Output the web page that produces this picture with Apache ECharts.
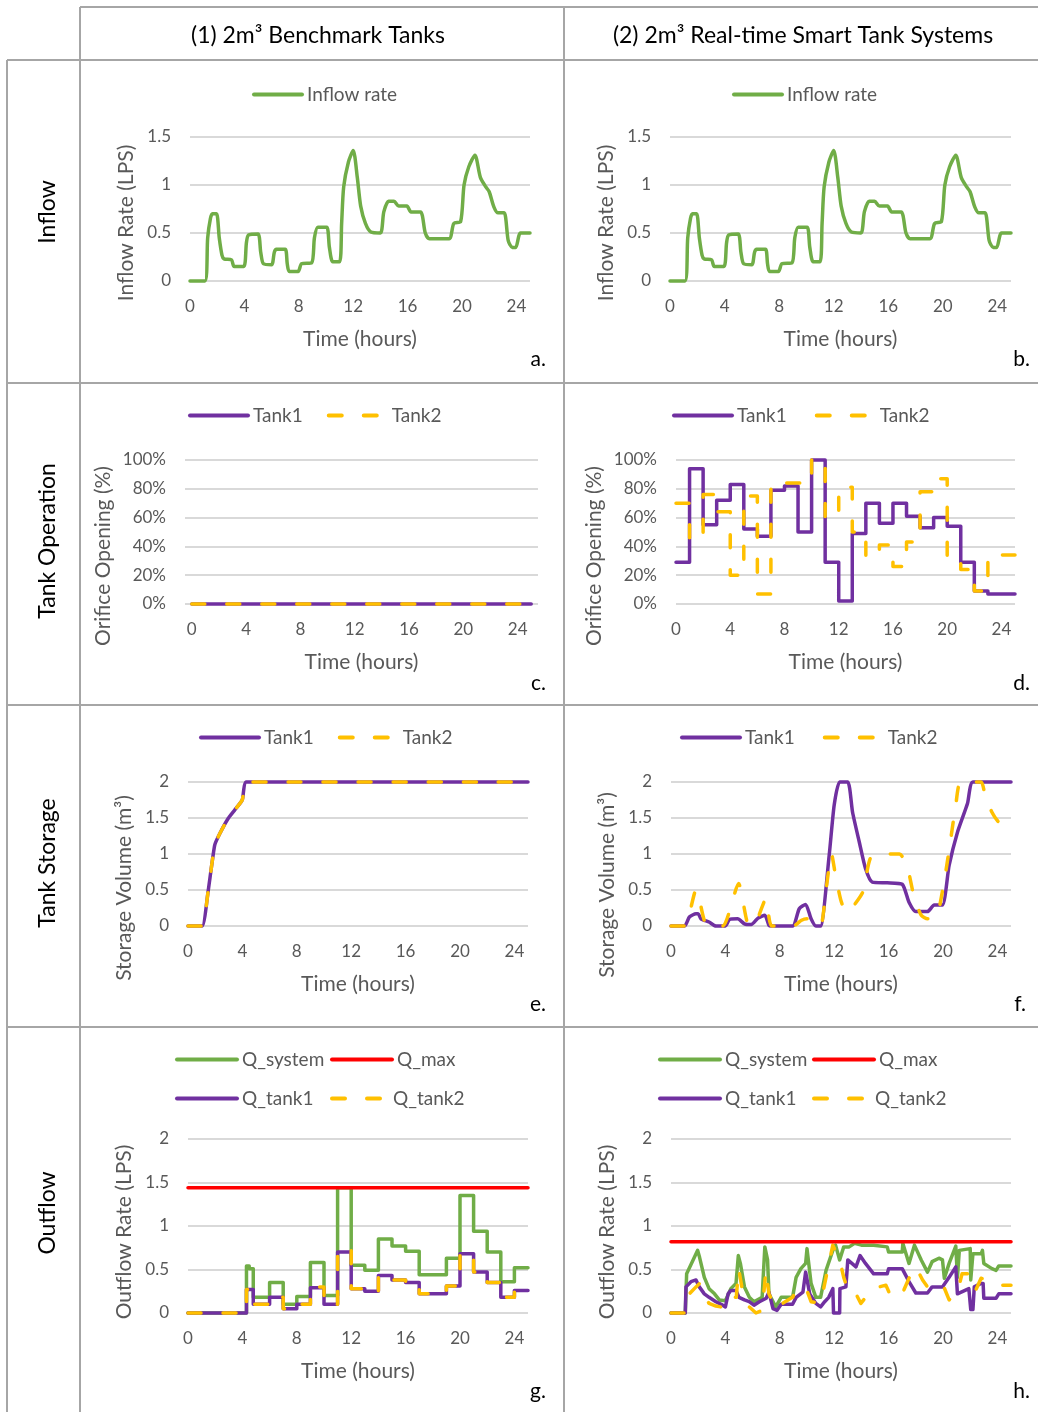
<!DOCTYPE html>
<html><head><meta charset="utf-8">
<script src="https://cdn.jsdelivr.net/npm/echarts@6/dist/echarts.min.js"></script>
<style>html,body{margin:0;padding:0;background:#fff}#c{width:1038px;height:1412px}</style>
</head><body><div id="c"></div><script>
// ---------------- DATA ----------------
const xTicks = [0, 4, 8, 12, 16, 20, 24];
const inflowRate = [[0,0],[1.1,0],[1.3,0.45],[1.5,0.65],[1.65,0.7],[1.95,0.7],[2.15,0.45],[2.35,0.27],[2.5,0.23],[3.05,0.22],[3.25,0.15],[3.95,0.15],[4.15,0.4],[4.3,0.48],[5.0,0.49],[5.2,0.3],[5.4,0.18],[6.0,0.17],[6.2,0.3],[6.35,0.33],[7.0,0.33],[7.15,0.18],[7.3,0.1],[7.95,0.1],[8.2,0.18],[8.95,0.19],[9.15,0.45],[9.4,0.56],[10.05,0.56],[10.25,0.35],[10.5,0.2],[11.0,0.2],[11.15,0.6],[11.3,0.98],[11.65,1.24],[12.0,1.36],[12.3,1.08],[12.55,0.78],[12.9,0.6],[13.3,0.51],[14.0,0.5],[14.25,0.72],[14.6,0.83],[15.0,0.83],[15.35,0.78],[15.95,0.78],[16.25,0.72],[16.95,0.72],[17.3,0.5],[17.6,0.44],[19.05,0.44],[19.4,0.6],[19.9,0.62],[20.15,1.0],[20.5,1.19],[20.95,1.31],[21.35,1.08],[21.75,0.98],[22.0,0.93],[22.35,0.77],[22.65,0.71],[23.1,0.71],[23.4,0.42],[23.7,0.35],[23.95,0.35],[24.3,0.5],[25,0.5]];

// Orifice opening (%), benchmark: closed all day
const benchTank1Opening = [[0,0],[25,0]];
const benchTank2Opening = [[0,0],[25,0]];
// Orifice opening (%), smart system: hourly values for hours 0..23
const smartTank1Opening = [29,94,55,72,83,52,47,79,82,50,100,29,2,49,70,56,70,61,53,60,54,29,9,7];
const smartTank2Opening = [70,45,76,64,20,75,7,80,84,84,100,60,81,50,33,41,26,43,78,87,30,24,9,34];

// Storage volume (m3)
const benchTank1Storage = [[0,0],[1.05,0],[1.47,0.47],[1.96,1.12],[2.33,1.28],[2.94,1.49],[3.43,1.61],[3.99,1.75],[4.29,2.0],[25,2.0]];
const benchTank2Storage = [[0,0],[1.05,0],[1.47,0.47],[1.96,1.12],[2.33,1.28],[2.94,1.49],[3.43,1.61],[3.99,1.75],[4.29,2.0],[25,2.0]];
const smartTank1Storage = [[0,0],[1.0,0],[1.35,0.125],[1.84,0.17],[2.0,0.17],[2.2,0.1],[2.8,0.055],[3.3,0],[4.0,0],[4.3,0.09],[4.9,0.1],[5.4,0.03],[5.9,0.02],[6.4,0.11],[6.9,0.15],[7.2,0.01],[7.4,0],[8.94,0],[9.43,0.24],[9.9,0.3],[10.3,0.1],[10.65,0],[11.0,0],[11.63,0.98],[12.0,1.68],[12.4,2.0],[13.0,2.0],[13.35,1.58],[13.84,1.17],[14.3,0.8],[14.8,0.61],[15.9,0.6],[17.0,0.58],[17.5,0.33],[18.0,0.2],[18.86,0.2],[19.35,0.29],[19.96,0.29],[20.45,0.84],[21.06,1.3],[21.8,1.7],[22.2,2.0],[25,2.0]];
const smartTank2Storage = [[0,0],[1.0,0],[1.85,0.5],[2.0,0.45],[2.6,0.02],[3.8,0],[4.97,0.59],[5.7,0.02],[6.1,0.02],[6.98,0.38],[7.4,0],[9.0,0],[9.6,0.08],[10.0,0.1],[10.5,0.02],[11.0,0],[11.4,0.5],[11.8,1.0],[12.1,0.7],[12.5,0.35],[12.9,0.19],[13.3,0.25],[14.1,0.47],[14.8,0.98],[16.8,1.0],[17.4,0.8],[17.9,0.38],[18.4,0.15],[18.86,0.1],[19.2,0.1],[19.6,0.15],[20.2,0.75],[20.57,1.21],[20.94,1.68],[21.3,2.0],[22.8,2.0],[23.1,1.81],[23.6,1.58],[24.1,1.44],[24.5,1.42]];

// Outflow (LPS), benchmark (stepped)
const benchQSystem = [[0,0],[4.3,0.54],[4.5,0.51],[4.8,0.18],[6,0.35],[7,0.1],[8,0.19],[9,0.58],[10,0.2],[11,1.44],[12,0.55],[13,0.49],[14,0.85],[15,0.77],[16,0.71],[17,0.44],[19,0.63],[20,1.35],[21,0.94],[22,0.7],[23,0.36],[24,0.52],[25,0.52]];
const benchQMax = [[0,1.44],[25,1.44]];
const benchQTank1 = [[0,0],[4.3,0.27],[4.8,0.1],[6,0.18],[7,0.05],[8,0.1],[9,0.29],[10,0.1],[11,0.7],[12,0.28],[13,0.25],[14,0.43],[15,0.38],[16,0.35],[17,0.22],[19,0.31],[20,0.68],[21,0.47],[22,0.35],[23,0.18],[24,0.26],[25,0.26]];
const benchQTank2 = [[0,0],[4.3,0.27],[4.8,0.1],[6,0.18],[7,0.05],[8,0.1],[9,0.3],[10,0.1],[11,0.73],[12,0.28],[13,0.24],[14,0.43],[15,0.38],[16,0.35],[17,0.22],[19,0.31],[20,0.68],[21,0.47],[22,0.35],[23,0.18],[24,0.26],[25,0.26]];

// Outflow (LPS), smart system
const smartQSystem = [[0,0],[1.05,0],[1.15,0.45],[1.6,0.6],[1.96,0.72],[2.1,0.64],[2.45,0.41],[2.8,0.28],[3.2,0.22],[3.55,0.15],[4.0,0.14],[4.4,0.28],[4.78,0.34],[4.95,0.66],[5.1,0.57],[5.4,0.3],[5.76,0.18],[6.1,0.13],[6.7,0.18],[6.9,0.76],[7.1,0.61],[7.2,0.22],[7.7,0.07],[8.1,0.18],[8.94,0.18],[9.2,0.41],[9.55,0.51],[9.9,0.57],[10.0,0.74],[10.3,0.34],[10.65,0.18],[11.0,0.18],[11.4,0.49],[11.9,0.72],[12.1,0.78],[12.4,0.61],[12.7,0.76],[13.1,0.76],[13.5,0.8],[14.0,0.78],[14.9,0.78],[15.0,0.76],[15.9,0.76],[16.0,0.7],[17.0,0.7],[17.05,0.8],[17.5,0.57],[17.9,0.78],[18.4,0.61],[18.86,0.47],[19.2,0.59],[19.7,0.63],[19.96,0.61],[20.1,0.4],[20.45,0.57],[20.94,0.77],[21.06,0.41],[21.2,0.72],[22.0,0.74],[22.04,0.38],[22.2,0.68],[22.8,0.68],[22.9,0.72],[23.0,0.57],[23.6,0.51],[23.9,0.49],[24.1,0.54],[25,0.54]];
const smartQMax = [[0,0.82],[25,0.82]];
const smartQTank1 = [[0,0],[1.05,0],[1.1,0.3],[1.47,0.36],[1.84,0.38],[2.08,0.3],[2.45,0.22],[2.8,0.18],[3.3,0.13],[3.8,0.09],[4.0,0.07],[4.2,0.22],[4.4,0.26],[4.78,0.26],[5.0,0.18],[5.4,0.15],[5.75,0.13],[6.1,0.09],[6.5,0.13],[7.0,0.17],[7.2,0.24],[7.5,0.05],[7.8,0.03],[8.1,0.1],[8.94,0.1],[9.2,0.18],[9.7,0.24],[9.9,0.47],[10.2,0.22],[10.65,0.11],[11.0,0.07],[11.3,0.13],[11.6,0.18],[11.9,0.28],[11.95,0],[12.4,0],[12.42,0.28],[12.86,0.3],[13.0,0.61],[13.6,0.53],[13.9,0.66],[14.3,0.57],[14.9,0.45],[15.9,0.45],[16.0,0.51],[17.0,0.51],[17.5,0.36],[18.0,0.23],[18.86,0.23],[19.2,0.3],[19.96,0.3],[20.45,0.41],[20.94,0.53],[21.06,0.22],[21.9,0.28],[22.04,0.04],[22.2,0.04],[22.3,0.3],[22.8,0.34],[22.95,0.34],[23.0,0.17],[23.9,0.17],[24.1,0.22],[25,0.22]];
const smartQTank2 = [[0,0],[1.05,0],[1.35,0.22],[1.84,0.3],[2.1,0.34],[2.3,0.22],[2.8,0.11],[3.3,0.08],[4.0,0.06],[4.3,0.18],[4.8,0.18],[4.97,0.51],[5.3,0.22],[5.75,0.07],[6.25,0],[6.7,0.03],[6.98,0.49],[7.2,0.22],[7.7,0.05],[8.2,0.11],[8.94,0.18],[9.2,0.26],[9.9,0.3],[10.3,0.13],[11.0,0.11],[11.4,0.41],[11.9,0.78],[12.4,0.61],[12.7,0.41],[13.1,0.22],[13.6,0.22],[13.96,0.11],[14.8,0.28],[15.8,0.32],[16.2,0.18],[17.0,0.22],[17.5,0.4],[18.0,0.53],[18.5,0.38],[18.86,0.3],[19.2,0.32],[19.96,0.34],[20.45,0.15],[21.06,0.24],[21.4,0.45],[22.04,0.45],[22.4,0.26],[22.8,0.4],[23.4,0.37],[23.9,0.34],[24.1,0.32],[25,0.32]];

// ---------------- STYLE / LAYOUT ----------------
const FONT = 'Lato';
const GRAY = '#595959';
const GREEN = '#70AD47', PURPLE = '#7030A0', GOLD = '#FFC000', RED = '#FF0000';
const LW = 3.5;
const DASH = [13, 22];

function hourly(vals) {
  const d = vals.map((v, i) => [i, v]);
  d.push([25, vals[vals.length - 1]]);
  return d;
}

const grids = [
  {left:190, top:137, width:340, height:144},  // a
  {left:670, top:137, width:341, height:144},  // b
  {left:185, top:460, width:353, height:144},  // c
  {left:676, top:460, width:339, height:144},  // d
  {left:188, top:782, width:340, height:144},  // e
  {left:671, top:782, width:340, height:144},  // f
  {left:188, top:1139, width:340, height:174}, // g
  {left:671, top:1139, width:340, height:174}  // h
];

function xAxisCfg(gi, min, max) {
  return {gridIndex: gi, type:'value', min: min, max: max,
    axisLine:{show:false}, axisTick:{show:false}, splitLine:{show:false},
    axisLabel:{customValues: xTicks, color:GRAY, fontSize:17, fontFamily:FONT, margin:17},
    name:'Time (hours)', nameLocation:'middle', nameGap:48,
    nameTextStyle:{color:GRAY, fontSize:21, fontFamily:FONT}};
}
function yAxisCfg(gi, max, interval, name, shift, gap, fmt) {
  return {gridIndex: gi, type:'value', min:0, max: max, interval: interval,
    axisLine:{show:false}, axisTick:{show:false},
    splitLine:{lineStyle:{color:'#D9D9D9', width:2}},
    axisLabel:{color:GRAY, fontSize:17, fontFamily:FONT, margin:19, formatter: fmt},
    name: name, nameLocation:'middle', nameGap: gap,
    nameTextStyle:{color:GRAY, fontSize:21, fontFamily:FONT, padding:[0, shift * 2, 0, 0]}};
}

function ser(name, gi, data, color, opts) {
  const o = opts || {};
  return {type:'line', name: name, xAxisIndex: gi, yAxisIndex: gi, data: data,
    symbol:'none', showSymbol:false, clip:false, animation:false,
    step: o.step || false, smooth: o.smooth || false,
    lineStyle:{color: color, width: LW, type: o.dash ? DASH : 'solid', cap:'round', join:'round'},
    itemStyle:{color: color}, z: o.z || 2};
}

function legendCfg(names, left, top, itemWidth, gap) {
  return {data: names, left: left, top: top, itemWidth: itemWidth, itemHeight: 14, itemGap: gap || 10,
    padding: 0, selectedMode: false, orient:'horizontal',
    lineStyle:{width: 4},
    itemStyle:{opacity: 0},
    textStyle:{color: GRAY, fontSize:19, fontFamily: FONT}};
}

const pctFmt = '{value}%';

const option = {
  backgroundColor:'#fff',
  animation:false,
  grid: grids,
  xAxis: [
    xAxisCfg(0, 0, 25), xAxisCfg(1, 0, 25), xAxisCfg(2, -0.5, 25.5), xAxisCfg(3, 0, 25),
    xAxisCfg(4, 0, 25), xAxisCfg(5, 0, 25), xAxisCfg(6, 0, 25), xAxisCfg(7, 0, 25)
  ],
  yAxis: [
    yAxisCfg(0, 1.5, 0.5, 'Inflow Rate (LPS)', 14, 53),
    yAxisCfg(1, 1.5, 0.5, 'Inflow Rate (LPS)', 14, 53),
    yAxisCfg(2, 100, 20, 'Orifice Opening (%)', 24, 71, pctFmt),
    yAxisCfg(3, 100, 20, 'Orifice Opening (%)', 24, 71, pctFmt),
    yAxisCfg(4, 2, 0.5, 'Storage Volume (m³)', 34, 53),
    yAxisCfg(5, 2, 0.5, 'Storage Volume (m³)', 31, 53),
    yAxisCfg(6, 2, 0.5, 'Outflow Rate (LPS)', 6, 53),
    yAxisCfg(7, 2, 0.5, 'Outflow Rate (LPS)', 6, 53)
  ],
  legend: [
    legendCfg(['Inflow rate'], 252, 85, 48),
    legendCfg(['Inflow rate'], 732, 85, 48),
    legendCfg(['Tank1', 'Tank2'], 188, 406, 58, 24),
    legendCfg(['Tank1', 'Tank2'], 672, 406, 58, 28),
    legendCfg(['Tank1', 'Tank2'], 199, 728, 58, 24),
    legendCfg(['Tank1', 'Tank2'], 680, 728, 58, 28),
    legendCfg(['Q_system'], 175, 1050, 60),
    legendCfg(['Q_max'], 330, 1050, 60),
    legendCfg(['Q_tank1'], 175, 1089, 60),
    legendCfg(['Q_tank2'], 330, 1089, 56),
    legendCfg(['Q_system'], 658, 1050, 60),
    legendCfg(['Q_max'], 812, 1050, 60),
    legendCfg(['Q_tank1'], 658, 1089, 60),
    legendCfg(['Q_tank2'], 812, 1089, 56)
  ],
  series: [
    ser('Inflow rate', 0, inflowRate, GREEN, {smooth:0.25}),
    ser('Inflow rate', 1, inflowRate, GREEN, {smooth:0.25}),
    ser('Tank1', 2, benchTank1Opening, PURPLE),
    ser('Tank2', 2, benchTank2Opening, GOLD, {dash:true, z:3}),
    ser('Tank1', 3, hourly(smartTank1Opening), PURPLE, {step:'end'}),
    ser('Tank2', 3, hourly(smartTank2Opening), GOLD, {step:'end', dash:true, z:3}),
    ser('Tank1', 4, benchTank1Storage, PURPLE, {smooth:0.15}),
    ser('Tank2', 4, benchTank2Storage, GOLD, {smooth:0.15, dash:true, z:3}),
    ser('Tank1', 5, smartTank1Storage, PURPLE, {smooth:0.2}),
    ser('Tank2', 5, smartTank2Storage, GOLD, {smooth:0.2, dash:true, z:3}),
    ser('Q_system', 6, benchQSystem, GREEN, {step:'end'}),
    ser('Q_max', 6, benchQMax, RED, {z:4}),
    ser('Q_tank1', 6, benchQTank1, PURPLE, {step:'end', z:3}),
    ser('Q_tank2', 6, benchQTank2, GOLD, {step:'end', dash:true, z:3}),
    ser('Q_system', 7, smartQSystem, GREEN),
    ser('Q_max', 7, smartQMax, RED, {z:4}),
    ser('Q_tank1', 7, smartQTank1, PURPLE, {z:3}),
    ser('Q_tank2', 7, smartQTank2, GOLD, {dash:true, z:3})
  ],
  graphic: []
};

// table frame
const frame = {stroke:'#A6A6A6', lineWidth:2};
const lines = [
  [7,60,7,1412],[80,7,80,1412],[564,7,564,1412],
  [80,7,1038,7],[7,60,1038,60],[7,383,1038,383],[7,705,1038,705],[7,1027,1038,1027]
];
lines.forEach(l => option.graphic.push({type:'line', silent:true, z:100,
  shape:{x1:l[0], y1:l[1], x2:l[2], y2:l[3]}, style: frame}));

function txt(x, y, s, size, opts) {
  const o = opts || {};
  return {type:'text', x:x, y:y, rotation: o.rot || 0, silent:true, z:100,
    style:{text:s, fontSize:size, fontFamily:FONT, fill: o.fill || '#000',
      align: o.align || 'center', verticalAlign:'middle',
      textAlign: o.align || 'center', textVerticalAlign:'middle'}};
}
option.graphic.push(txt(318, 36, '(1) 2m³ Benchmark Tanks', 23));
option.graphic.push(txt(803, 36, '(2) 2m³ Real-time Smart Tank Systems', 23));
option.graphic.push(txt(48, 212, 'Inflow', 23, {rot: Math.PI/2}));
option.graphic.push(txt(48, 541, 'Tank Operation', 23, {rot: Math.PI/2}));
option.graphic.push(txt(48, 863, 'Tank Storage', 23, {rot: Math.PI/2}));
option.graphic.push(txt(48, 1213, 'Outflow', 23, {rot: Math.PI/2}));
const panelLabels = [['a.',546,359],['b.',1030,359],['c.',546,683],['d.',1030,683],['e.',546,1004],['f.',1026,1004],['g.',546,1391],['h.',1030,1391]];
panelLabels.forEach(p => option.graphic.push(txt(p[1], p[2], p[0], 21, {align:'right'})));

const chart = echarts.init(document.getElementById('c'), null, {renderer:'canvas'});
chart.setOption(option);
</script></body></html>
